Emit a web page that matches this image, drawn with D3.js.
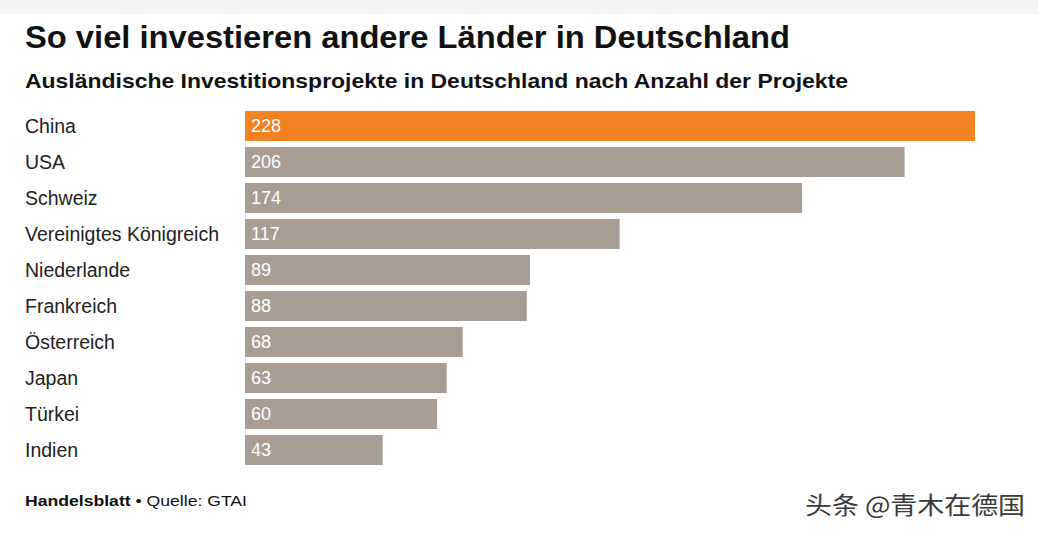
<!DOCTYPE html>
<html>
<head>
<meta charset="utf-8">
<script src="https://cdn.jsdelivr.net/npm/d3@7"></script>
<style>
  body { margin: 0; background: #fff; }
  text { font-family: "Liberation Sans", Arial, sans-serif; }
</style>
</head>
<body>
<div id="chart"></div>
<script>
// data
var countries = ["China", "USA", "Schweiz", "Vereinigtes Königreich", "Niederlande",
                 "Frankreich", "Österreich", "Japan", "Türkei", "Indien"];
var projects = [228, 206, 174, 117, 89, 88, 68, 63, 60, 43];
var highlight = "China";

var svgWidth = 1038, svgHeight = 533;
var margin = {top: 111, left: 245};

var svg = d3.select("#chart")
  .append("svg")
    .attr("width", svgWidth)
    .attr("height", svgHeight);

// light strip on top
svg.append("rect")
  .attr("x", 0).attr("y", 0)
  .attr("width", svgWidth).attr("height", 14)
  .attr("fill", "#f3f3f3");

// title + subtitle
svg.append("text")
  .attr("x", 25).attr("y", 48)
  .attr("font-size", 31).attr("font-weight", "bold")
  .attr("fill", "#111")
  .attr("textLength", 765).attr("lengthAdjust", "spacingAndGlyphs")
  .text("So viel investieren andere Länder in Deutschland");

svg.append("text")
  .attr("x", 25).attr("y", 88)
  .attr("font-size", 20.5).attr("font-weight", "bold")
  .attr("fill", "#111")
  .attr("textLength", 823).attr("lengthAdjust", "spacingAndGlyphs")
  .text("Ausländische Investitionsprojekte in Deutschland nach Anzahl der Projekte");

var g = svg.append("g")
  .attr("transform", "translate(" + margin.left + "," + margin.top + ")");

var x = d3.scaleLinear()
  .domain([0, 228])
  .range([0, 730]);

var y = d3.scaleBand()
  .domain(countries)
  .range([0, 354])
  .paddingInner(6 / 36)
  .paddingOuter(0)
  .align(0);

var rows = countries.map(function(c, i) { return {country: c, value: projects[i]}; });

// bars
g.selectAll(".bar")
  .data(rows)
  .enter().append("rect")
  .attr("class", "bar")
  .attr("x", 0)
  .attr("y", function(d) { return y(d.country); })
  .attr("width", function(d) { return x(d.value); })
  .attr("height", y.bandwidth())
  .attr("fill", function(d) { return d.country === highlight ? "#f28222" : "#a89d93"; });

// values inside bars
g.selectAll(".val")
  .data(rows)
  .enter().append("text")
  .attr("class", "val")
  .attr("x", 6)
  .attr("y", function(d) { return y(d.country) + y.bandwidth() / 2; })
  .attr("dy", "0.36em")
  .attr("font-size", 18)
  .attr("fill", "#fff")
  .text(function(d) { return d.value; });

// country labels
g.selectAll(".lab")
  .data(rows)
  .enter().append("text")
  .attr("class", "lab")
  .attr("x", 25 - margin.left)
  .attr("y", function(d) { return y(d.country) + y.bandwidth() / 2; })
  .attr("dy", "0.34em")
  .attr("font-size", 19.5)
  .attr("fill", "#222")
  .text(function(d) { return d.country; });

// footer
var foot = svg.append("text")
  .attr("x", 25).attr("y", 506)
  .attr("font-size", 15)
  .attr("fill", "#111")
  .attr("textLength", 222).attr("lengthAdjust", "spacingAndGlyphs");
foot.append("tspan").attr("font-weight", "bold").text("Handelsblatt");
foot.append("tspan").text(" • Quelle: GTAI");

svg.append("text")
  .attr("x", 805).attr("y", 514)
  .attr("font-size", 24)
  .attr("fill", "#3a3a3a")
  .attr("textLength", 220).attr("lengthAdjust", "spacingAndGlyphs")
  .style("font-family", "'Noto Sans CJK SC', sans-serif")
  .text("头条 @青木在德国");
</script>
</body>
</html>
